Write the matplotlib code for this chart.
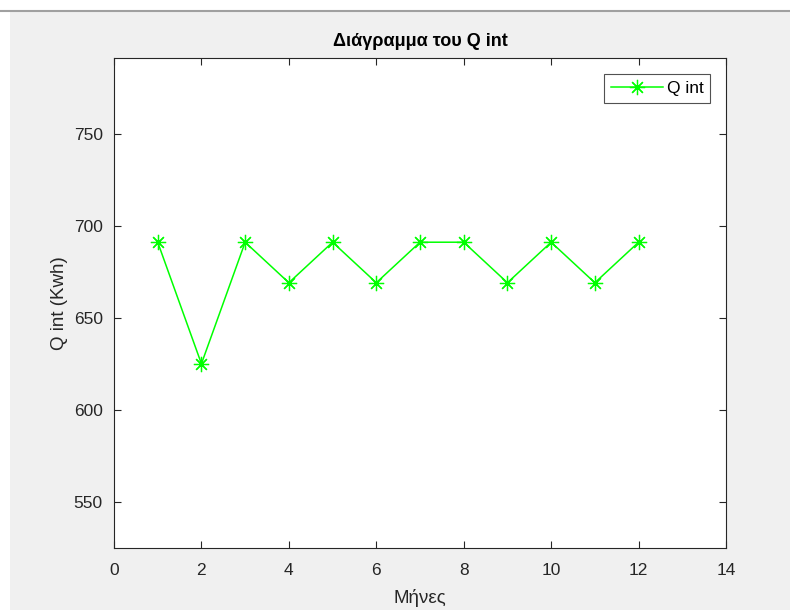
import matplotlib
matplotlib.use("Agg")
import matplotlib.pyplot as plt
from matplotlib.patches import Rectangle
from matplotlib.lines import Line2D

months = [1, 2, 3, 4, 5, 6, 7, 8, 9, 10, 11, 12]
q_int = [691, 625, 691, 669, 691, 669, 691, 691, 669, 691, 669, 691]
x_ticks = [0, 2, 4, 6, 8, 10, 12, 14]
y_ticks = [550, 600, 650, 700, 750]
title = "Διάγραμμα του Q int"
xlabel = "Μήνες"
ylabel = "Q int (Kwh)"
legend_label = "Q int"

plt.rcParams['font.family'] = ['Liberation Sans', 'DejaVu Sans']
dark = '#262626'

fig = plt.figure(figsize=(7.9, 6.1), dpi=100)
fig.patch.set_facecolor('white')
W, H = 790, 610
fig.patches.append(Rectangle((10 / W, 0), 1 - 10 / W, 1 - 11 / H,
                             transform=fig.transFigure, facecolor='#f0f0f0',
                             edgecolor='none', zorder=-10))
fig.lines.append(Line2D([0, 1], [1 - 10.5 / H, 1 - 10.5 / H], transform=fig.transFigure,
                        color='#a0a0a0', linewidth=1.5, zorder=-9))

ax = fig.add_axes([114 / W, (H - 548) / H, (726 - 114) / W, (548 - 58) / H])
ax.set_facecolor('white')
ax.plot(months, q_int, color=(0, 1, 0), marker=(8, 2, 0), markersize=11,
        linewidth=1.1, markeredgewidth=0.9, label=legend_label)

ax.set_xlim(0, 14)
ax.set_ylim(min(q_int) - 100, max(q_int) + 100)
ax.set_xticks(x_ticks)
ax.set_yticks(y_ticks)
ax.tick_params(direction='in', top=True, right=True, length=5, width=0.8,
               colors=dark, labelsize=12.5)
ax.tick_params(axis='x', pad=11)
ax.tick_params(axis='y', pad=8)
for s in ax.spines.values():
    s.set_color(dark)
    s.set_linewidth(0.8)

ax.set_title(title, fontsize=13, fontweight='bold', color='black', pad=9)
ax.set_xlabel(xlabel, fontsize=13.5, color=dark, labelpad=8)
ax.set_ylabel(ylabel, fontsize=13.5, color=dark, labelpad=4)

leg = ax.legend(loc='upper right', fontsize=12.5, frameon=True, fancybox=False,
                edgecolor=dark, borderaxespad=0.9, handlelength=3.0,
                handletextpad=0.2, borderpad=0.4)
leg.get_frame().set_linewidth(0.8)

fig.savefig('out.png', dpi=100, facecolor=fig.get_facecolor())
